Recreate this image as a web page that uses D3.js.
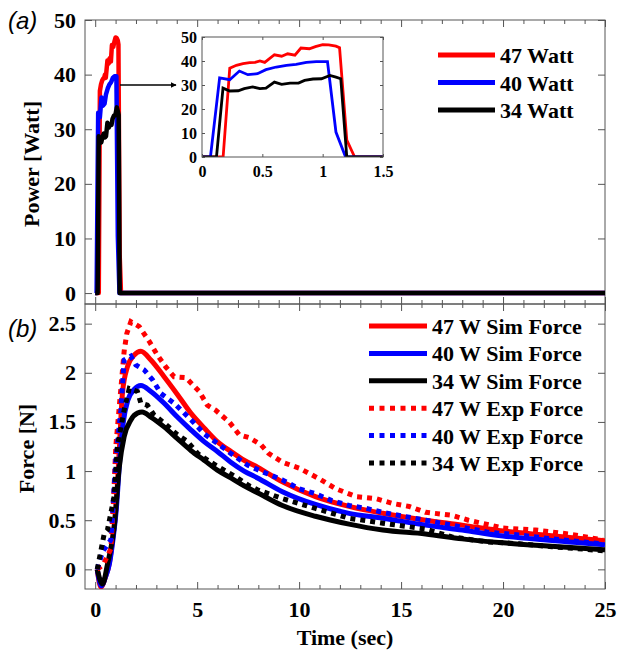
<!DOCTYPE html>
<html>
<head>
<meta charset="utf-8">
<script src="https://cdn.jsdelivr.net/npm/d3@7"></script>
<style>
    body { margin: 0; background: #fff; }
    svg text { font-family: "Liberation Serif", "Times New Roman", serif; font-weight: bold; }
    .frame { fill: none; stroke: #555; stroke-width: 1; }
    .tick line { stroke: #555; }
    .tick text { fill: #000; }
    .panelTag { font-family: "Liberation Sans", Arial, sans-serif; font-weight: normal; font-style: italic; }
</style>
</head>
<body>
<script>
(function(){

//power pulses, [time (s), power (W)]
var power47 = [[0,0],[0.175,0],[0.23,37],[0.285,38.2],[0.34,38.9],[0.395,39.3],[0.44,39.4],[0.48,40],[0.52,39.4],[0.6,42.6],[0.66,42],[0.71,43],[0.77,42.4],[0.82,45.4],[0.89,45.1],[0.94,46],[1.0,46.8],[1.05,46.7],[1.11,46.2],[1.14,45.5],[1.2,7],[1.265,0],[1.5,0],[25,0]];
var power40 = [[0,0],[0.07,0],[0.146,33],[0.23,32.2],[0.31,35.8],[0.38,34.3],[0.46,34.7],[0.53,36.4],[0.616,37.5],[0.7,38.2],[0.78,38.6],[0.865,39.4],[0.947,39.7],[1.04,39.7],[1.11,10.4],[1.19,0],[1.5,0],[25,0]];
var power34 = [[0,0],[0.12,0],[0.174,28.7],[0.23,27.5],[0.3,27.6],[0.35,28.5],[0.42,29.2],[0.48,28.5],[0.53,28.7],[0.6,31.2],[0.66,30.3],[0.73,30.8],[0.8,30.8],[0.85,31.9],[0.92,32.5],[0.99,32.6],[1.06,34],[1.11,33.3],[1.15,32.6],[1.2,0],[1.5,0],[25,0]];
var powerNames = ["47 Watt", "40 Watt", "34 Watt"];

//simulated force, [time (s), force (N)]
var sim47 = [[0.1,0],[0.28,-0.18],[0.5,-0.08],[0.69,0.06],[0.85,0.3],[1.01,0.6],[1.18,1.21],[1.34,1.8],[1.58,2.06],[1.91,2.18],[2.24,2.22],[2.73,2.13],[3.38,1.96],[4.03,1.78],[4.69,1.59],[5.34,1.44],[5.99,1.3],[6.65,1.2],[7.3,1.11],[7.96,1.04],[9.18,0.89],[10.8,0.74],[12.45,0.64],[14.1,0.57],[16.2,0.5],[18,0.45],[20,0.39],[22,0.35],[25,0.29]];
var sim40 = [[0.1,0],[0.3,-0.17],[0.5,-0.08],[0.7,0.06],[0.87,0.3],[1.03,0.6],[1.2,1.1],[1.38,1.5],[1.6,1.72],[1.91,1.83],[2.24,1.87],[2.73,1.81],[3.38,1.69],[4.03,1.55],[4.69,1.42],[5.34,1.3],[5.99,1.2],[6.65,1.09],[7.3,1.0],[7.96,0.93],[9.18,0.79],[10.8,0.66],[12.45,0.57],[14.1,0.52],[16.2,0.45],[18,0.4],[20,0.34],[22,0.3],[25,0.25]];
var sim34 = [[0.1,0],[0.36,-0.15],[0.6,0.05],[0.93,0.43],[1.18,1.04],[1.42,1.35],[1.75,1.52],[2.07,1.59],[2.3,1.6],[2.73,1.55],[3.38,1.45],[4.03,1.33],[4.69,1.21],[5.34,1.11],[5.99,1.01],[6.65,0.93],[7.3,0.85],[7.96,0.78],[9.18,0.65],[10.8,0.54],[12.45,0.46],[14.1,0.4],[16.2,0.36],[18,0.31],[20,0.27],[22,0.24],[25,0.2]];

//experimental force, [time (s), force (N)]
var exp47 = [[0.1,0],[0.4,0.05],[0.77,0.21],[0.9,0.7],[1.01,1.25],[1.2,1.7],[1.42,2.22],[1.55,2.4],[1.75,2.52],[2.16,2.47],[2.65,2.32],[3.05,2.18],[3.46,2.06],[3.87,1.96],[4.45,1.95],[5.1,1.81],[5.5,1.67],[5.9,1.62],[6.57,1.5],[7.06,1.37],[7.55,1.34],[8.12,1.27],[8.5,1.18],[9.18,1.09],[10,1.03],[11,0.92],[11.8,0.82],[12.8,0.74],[13.76,0.72],[14.6,0.67],[15.4,0.64],[16.2,0.58],[17.5,0.55],[18.3,0.5],[20,0.42],[21.6,0.4],[23.2,0.36],[24.9,0.3]];
var exp40 = [[0.1,0],[0.36,0.18],[0.77,0.3],[1.01,1.11],[1.26,1.62],[1.42,2.13],[1.75,2.17],[1.99,2.08],[2.4,2.03],[2.81,1.93],[3.22,1.79],[3.87,1.69],[4.36,1.59],[4.85,1.49],[5.34,1.38],[6,1.28],[6.65,1.18],[7.47,1.06],[8.12,1.0],[9.18,0.91],[10,0.82],[10.8,0.77],[11.6,0.7],[12.45,0.65],[13.3,0.62],[14.1,0.58],[15.4,0.53],[16.2,0.5],[17.5,0.45],[19.2,0.38],[20.8,0.35],[22.4,0.31],[24.9,0.26]];
var exp34 = [[0.1,0],[0.44,0.36],[0.6,0.4],[0.93,0.74],[1.09,1.25],[1.42,1.62],[1.67,1.84],[2.07,1.81],[2.24,1.69],[2.56,1.67],[2.89,1.57],[3.38,1.49],[4.03,1.37],[4.53,1.3],[5.02,1.18],[5.67,1.09],[6.32,1.01],[6.98,0.93],[7.55,0.85],[7.96,0.81],[9.18,0.72],[10.8,0.62],[12.45,0.52],[14.1,0.47],[16.2,0.41],[17.5,0.33],[19.2,0.28],[20.8,0.26],[22.4,0.23],[24.9,0.19]];
var forceNames = ["47 W Sim Force", "40 W Sim Force", "34 W Sim Force", "47 W Exp Force", "40 W Exp Force", "34 W Exp Force"];

//tick values
var timeTicks = [0, 5, 10, 15, 20, 25];
var powerTicks = [0, 10, 20, 30, 40, 50];
var forceTicks = [0, 0.5, 1, 1.5, 2, 2.5];
var insetTimeTicks = [0, 0.5, 1, 1.5];

var colors = ["#ff0000", "#0000ff", "#000000"];

window.onload = setFigure();

function setFigure(){
    var width = 617, height = 656;

    var svg = d3.select("body")
        .append("svg")
        .attr("width", width)
        .attr("height", height);

    //frame edges of the two stacked panels
    var left = 85, right = 605,
        topA = 20, midY = 304, bottomB = 589;

    var x = d3.scaleLinear().domain([-0.5, 25]).range([left, right]);
    var yPower = d3.scaleLinear().domain([-2, 50]).range([midY, topA]);
    var yForce = d3.scaleLinear().domain([-0.2, 2.7]).range([bottomB, midY]);

    //panel (a)
    var panelA = svg.append("g");
    addClip(svg, "clipA", left, topA, right - left, midY - topA);
    setFrame(panelA, x, yPower, powerTicks, false);

    var powerLine = d3.line()
        .x(function(d){ return x(d[0]); })
        .y(function(d){ return yPower(d[1]); });

    [power47, power40, power34].forEach(function(series, i){
        panelA.append("path")
            .datum(series)
            .attr("clip-path", "url(#clipA)")
            .attr("d", powerLine)
            .style("fill", "none")
            .style("stroke", colors[i])
            .style("stroke-width", 4.5)
            .style("stroke-linejoin", "round");
    });

    panelA.append("text")
        .attr("transform", "translate(39," + ((topA + midY) / 2 + 2) + ") rotate(-90)")
        .attr("text-anchor", "middle")
        .style("font-size", "22px")
        .text("Power [Watt]");

    panelA.append("text")
        .attr("class", "panelTag")
        .attr("x", 8)
        .attr("y", 29)
        .style("font-size", "24px")
        .text("(a)");

    //arrow pointing at the inset
    svg.append("defs").append("marker")
        .attr("id", "arrowHead")
        .attr("viewBox", "0 0 10 10")
        .attr("refX", 9).attr("refY", 5)
        .attr("markerWidth", 6).attr("markerHeight", 6)
        .attr("markerUnits", "userSpaceOnUse")
        .attr("orient", "auto")
        .append("path")
        .attr("d", "M0,0L10,5L0,10Z")
        .style("fill", "#000");

    panelA.append("line")
        .attr("x1", 120).attr("y1", 85)
        .attr("x2", 176).attr("y2", 85)
        .style("stroke", "#000")
        .style("stroke-width", 1.5)
        .attr("marker-end", "url(#arrowHead)");

    setInset(svg);

    setLegend(panelA, powerNames, 438, 495, 55, 27.5, [false, false, false]);

    //panel (b)
    var panelB = svg.append("g");
    addClip(svg, "clipB", left, midY, right - left, bottomB - midY);
    setFrame(panelB, x, yForce, forceTicks, true);

    var smoothLine = d3.line()
        .curve(d3.curveMonotoneX)
        .x(function(d){ return x(d[0]); })
        .y(function(d){ return yForce(d[1]); });

    var rawLine = d3.line()
        .x(function(d){ return x(d[0]); })
        .y(function(d){ return yForce(d[1]); });

    [sim47, sim40, sim34].forEach(function(series, i){
        panelB.append("path")
            .datum(series)
            .attr("clip-path", "url(#clipB)")
            .attr("d", smoothLine)
            .style("fill", "none")
            .style("stroke", colors[i])
            .style("stroke-width", 5);
    });

    [exp47, exp40, exp34].forEach(function(series, i){
        panelB.append("path")
            .datum(series)
            .attr("clip-path", "url(#clipB)")
            .attr("d", rawLine)
            .style("fill", "none")
            .style("stroke", colors[i])
            .style("stroke-width", 5)
            .style("stroke-dasharray", "5,5");
    });

    panelB.append("text")
        .attr("transform", "translate(34," + ((midY + bottomB) / 2 + 2) + ") rotate(-90)")
        .attr("text-anchor", "middle")
        .style("font-size", "22px")
        .text("Force [N]");

    panelB.append("text")
        .attr("class", "panelTag")
        .attr("x", 8)
        .attr("y", 337)
        .style("font-size", "24px")
        .text("(b)");

    panelB.append("text")
        .attr("x", (left + right) / 2)
        .attr("y", 645)
        .attr("text-anchor", "middle")
        .style("font-size", "22px")
        .text("Time (sec)");

    setLegend(panelB, forceNames, 369, 427, 326, 27.4, [false, false, false, true, true, true]);
};

function addClip(svg, id, x0, y0, w, h){
    svg.append("clipPath")
        .attr("id", id)
        .append("rect")
        .attr("x", x0).attr("y", y0)
        .attr("width", w).attr("height", h);
};

//box with inward ticks on all four sides, matlab style
function setFrame(g, x, y, yTicks, showTime){
    var x0 = x.range()[0], x1 = x.range()[1],
        y0 = y.range()[1], y1 = y.range()[0];

    var minorTicks = d3.range(0, 26, 1).filter(function(v){ return v % 5 != 0; });

    //bottom axis
    var bottom = g.append("g")
        .attr("transform", "translate(0," + y1 + ")")
        .call(d3.axisBottom(x).tickValues(timeTicks).tickSize(-7).tickPadding(12)
            .tickFormat(showTime ? d3.format("d") : function(){ return ""; }));
    g.append("g")
        .attr("transform", "translate(0," + y1 + ")")
        .call(d3.axisBottom(x).tickValues(minorTicks).tickSize(-4).tickFormat(""));

    //top axis
    g.append("g")
        .attr("transform", "translate(0," + y0 + ")")
        .call(d3.axisTop(x).tickValues(timeTicks).tickSize(-7).tickFormat(""));
    g.append("g")
        .attr("transform", "translate(0," + y0 + ")")
        .call(d3.axisTop(x).tickValues(minorTicks).tickSize(-4).tickFormat(""));

    //left axis
    g.append("g")
        .attr("transform", "translate(" + x0 + ",0)")
        .call(d3.axisLeft(y).tickValues(yTicks).tickSize(-7).tickPadding(9).tickFormat(d3.format("")));

    //right axis
    g.append("g")
        .attr("transform", "translate(" + x1 + ",0)")
        .call(d3.axisRight(y).tickValues(yTicks).tickSize(-7).tickFormat(""));

    g.selectAll(".domain").remove();
    g.selectAll(".tick text")
        .attr("font-family", null)
        .style("font-size", "22px");

    g.append("rect")
        .attr("class", "frame")
        .attr("x", x0).attr("y", y0)
        .attr("width", x1 - x0).attr("height", y1 - y0);
};

//zoomed view of the pulse
function setInset(svg){
    var ix = d3.scaleLinear().domain([0, 1.5]).range([202, 383]);
    var iy = d3.scaleLinear().domain([0, 50]).range([157, 37]);

    var inset = svg.append("g");
    addClip(svg, "clipInset", 202, 37, 181, 120);

    inset.append("rect")
        .attr("x", 202).attr("y", 37)
        .attr("width", 181).attr("height", 120)
        .style("fill", "#fff");

    var insetLine = d3.line()
        .x(function(d){ return ix(d[0]); })
        .y(function(d){ return iy(d[1]); });

    [power47, power40, power34].forEach(function(series, i){
        inset.append("path")
            .datum(series)
            .attr("clip-path", "url(#clipInset)")
            .attr("d", insetLine)
            .style("fill", "none")
            .style("stroke", colors[i])
            .style("stroke-width", 2.8);
    });

    inset.append("g")
        .attr("transform", "translate(0,157)")
        .call(d3.axisBottom(ix).tickValues(insetTimeTicks).tickSize(-3).tickPadding(9).tickFormat(d3.format("")));
    inset.append("g")
        .attr("transform", "translate(202,0)")
        .call(d3.axisLeft(iy).tickValues(powerTicks).tickSize(-3).tickPadding(5));
    inset.append("g")
        .attr("transform", "translate(0,37)")
        .call(d3.axisTop(ix).tickValues(insetTimeTicks).tickSize(-3).tickFormat(""));
    inset.append("g")
        .attr("transform", "translate(383,0)")
        .call(d3.axisRight(iy).tickValues(powerTicks).tickSize(-3).tickFormat(""));

    inset.selectAll(".domain").remove();
    inset.selectAll(".tick text")
        .attr("font-family", null)
        .style("font-size", "16px");

    inset.append("rect")
        .attr("class", "frame")
        .attr("x", 202).attr("y", 37)
        .attr("width", 181).attr("height", 120);
};

function setLegend(g, names, lx0, lx1, ly0, step, dotted){
    names.forEach(function(name, i){
        var yy = ly0 + i * step;
        var c = colors[i % 3];
        g.append("line")
            .attr("x1", lx0).attr("x2", lx1)
            .attr("y1", yy).attr("y2", yy)
            .style("stroke", c)
            .style("stroke-width", 5)
            .style("stroke-dasharray", dotted[i] ? "5,5.5" : null);
        g.append("text")
            .attr("x", lx1 + 5)
            .attr("y", yy + 8)
            .style("font-size", "22px")
            .text(name);
    });
};

})();
</script>
</body>
</html>
